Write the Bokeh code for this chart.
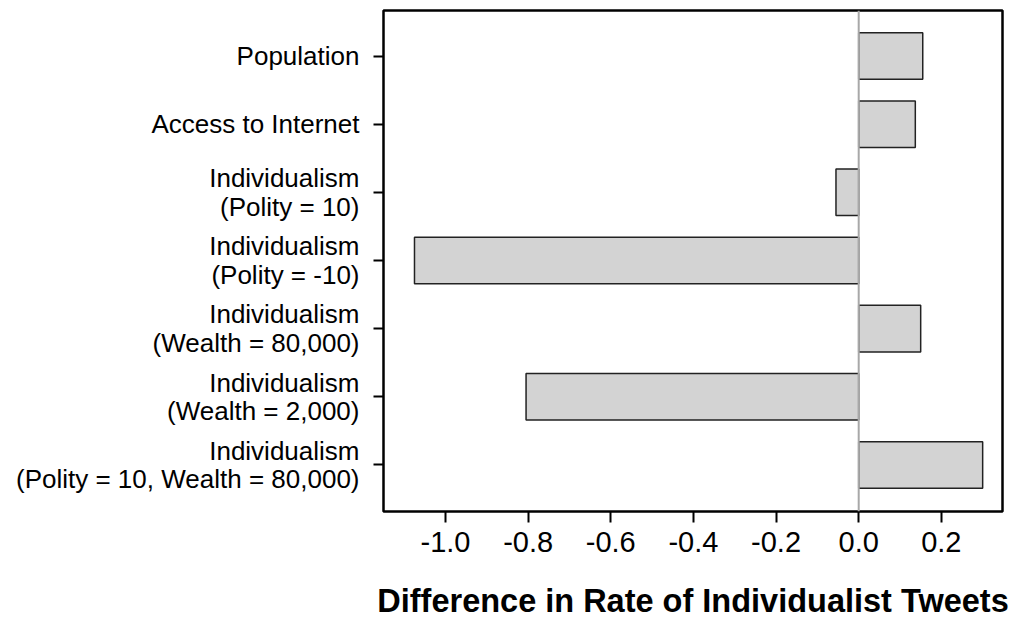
from bokeh.plotting import figure
from bokeh.models import Range1d, FixedTicker, Span, ColumnDataSource
from bokeh.embed import file_html
from bokeh.resources import INLINE

labels = [
    "Population",
    "Access to Internet",
    "Individualism\n(Polity = 10)",
    "Individualism\n(Polity = -10)",
    "Individualism\n(Wealth = 80,000)",
    "Individualism\n(Wealth = 2,000)",
    "Individualism\n(Polity = 10, Wealth = 80,000)",
]
values = [0.155, 0.137, -0.055, -1.075, 0.150, -0.805, 0.300]
positions = list(range(len(labels)))

x_ticks = [-1.0, -0.8, -0.6, -0.4, -0.2, 0.0, 0.2]
x_tick_labels = ["-1.0", "-0.8", "-0.6", "-0.4", "-0.2", "0.0", "0.2"]
x_title = "Difference in Rate of Individualist Tweets"

FONT = "Liberation Sans"

src = ColumnDataSource(dict(y=positions, right=values, left=[0] * len(values)))

p = figure(width=1020, height=621,
           x_range=Range1d(-1.15, 0.348), y_range=Range1d(6.683, -0.668),
           output_backend="svg", toolbar_location=None,
           min_border_left=383, min_border_right=18, min_border_top=10, min_border_bottom=106)

p.hbar(y="y", left="left", right="right", height=0.683, source=src,
       fill_color="#d3d3d3", line_color="#222222", line_width=1.5)

p.add_layout(Span(location=0, dimension="height", line_color="#a8a8a8", line_width=2))

p.xgrid.visible = False
p.ygrid.visible = False
p.outline_line_color = "black"
p.outline_line_width = 2.5
p.background_fill_color = "white"
p.border_fill_color = "white"

xa = p.xaxis[0]
xa.ticker = FixedTicker(ticks=x_ticks)
xa.major_label_overrides = {t: l for t, l in zip(x_ticks, x_tick_labels)}
xa.axis_line_color = None
xa.minor_tick_line_color = None
xa.major_tick_out = 11
xa.major_tick_in = 0
xa.major_tick_line_width = 2
xa.major_label_text_font = FONT
xa.major_label_text_font_size = "29px"
xa.major_label_text_color = "black"
xa.major_label_standoff = 9
xa.axis_label = x_title
xa.axis_label_text_font = FONT
xa.axis_label_text_font_size = "32.5px"
xa.axis_label_text_font_style = "bold"
xa.axis_label_text_color = "black"
xa.axis_label_standoff = 28

ya = p.yaxis[0]
ya.ticker = FixedTicker(ticks=positions)
ya.major_label_overrides = {i: l for i, l in zip(positions, labels)}
ya.axis_line_color = None
ya.minor_tick_line_color = None
ya.major_tick_out = 10
ya.major_tick_in = 0
ya.major_tick_line_width = 2
ya.major_label_text_font = FONT
ya.major_label_text_font_size = "26px"
ya.major_label_text_color = "black"
ya.major_label_standoff = 14
ya.major_label_text_line_height = 0.95

open("out.html", "w").write(file_html(p, INLINE))
